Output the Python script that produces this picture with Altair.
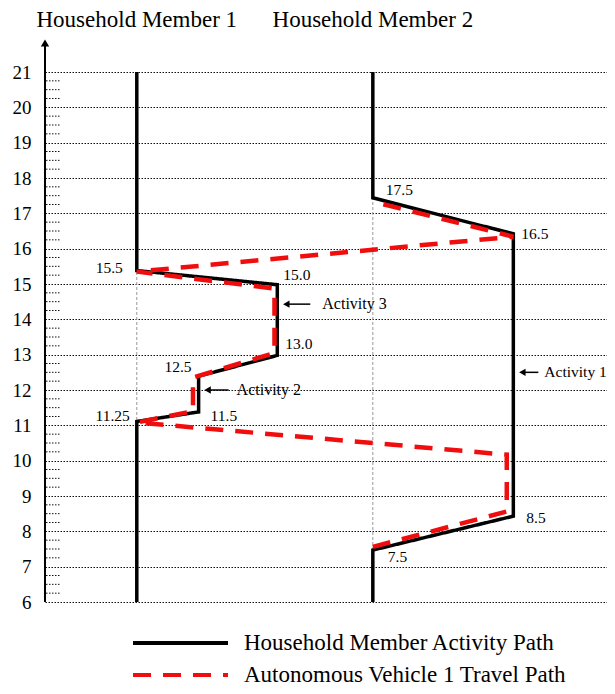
import altair as alt
import pandas as pd

SERIF = "Liberation Serif"
PLOT_W, PLOT_H = 562, 530
XMAX = 6.0

# ---- data ----
hours = list(range(6, 22))
quarter_marks = [h + q for h in range(6, 21) for q in (0.25, 0.5, 0.75)]

# abstract horizontal locations
LOC_M1, LOC_A2, LOC_A3, LOC_M2, LOC_A1 = 0.98, 1.64, 2.48, 3.5, 5.0

member_names = ["Household Member 1", "Household Member 2"]
member_locs = [LOC_M1, LOC_M2]

HM = "Household Member Activity Path"
AV = "Autonomous Vehicle 1 Travel Path"

m1_loc = [LOC_M1, LOC_M1, LOC_A2, LOC_A2, LOC_A3, LOC_A3, LOC_M1, LOC_M1]
m1_time = [6, 11.11, 11.38, 12.39, 12.98, 14.98, 15.38, 21]

m2_loc = [LOC_M2, LOC_M2, LOC_A1, LOC_A1, LOC_M2, LOC_M2]
m2_time = [6, 7.47, 8.43, 16.42, 17.44, 21]

av_loc = [3.5, 4.93, 4.93, 0.98, 1.58, 1.58, 2.45, 2.45, 0.98, 5.0, 3.5]
av_time = [7.56, 8.56, 10.17, 11.08, 11.4, 12.35, 13.05, 14.87, 15.35, 16.34, 17.33]

label_text = ["15.5", "15.0", "13.0", "12.5", "11.5", "11.25", "17.5", "16.5", "8.5", "7.5"]
label_loc = [LOC_M1, LOC_A3, LOC_A3, LOC_A2, LOC_A2, LOC_M1, LOC_M2, LOC_A1, LOC_A1, LOC_M2]
label_time = [15.38, 14.98, 12.98, 12.39, 11.38, 11.11, 17.44, 16.42, 8.43, 7.47]
# (align, dx, dy) styling per label
label_style = [("right", -14, -3), ("left", 6, -10), ("left", 8, -11), ("right", -7, -9),
               ("left", 12, 4), ("right", -7, -5), ("left", 13, -8), ("left", 8, 0),
               ("left", 13, 2), ("left", 15, 7)]

activity_names = ["Activity 1", "Activity 2", "Activity 3"]
activity_locs = [LOC_A1, LOC_A2, LOC_A3]
activity_time = [12.5, 12.0, 14.43]
# (arrow length, text dx, font size) styling per annotation
activity_style = [(20, 31, 15.5), (25, 38, 16), (28, 45, 16)]

# ---- tables ----
def path_df(locs, times, pid, kind):
    return pd.DataFrame({"loc": locs, "t": times, "path": pid, "kind": kind,
                         "order": list(range(len(locs)))})

black_df = pd.concat([path_df(m1_loc, m1_time, "m1", HM), path_df(m2_loc, m2_time, "m2", HM)])
red_df = path_df(av_loc, av_time, "av", AV)
hours_df = pd.DataFrame({"t": hours})
quarter_df = pd.DataFrame({"t": quarter_marks})
member_df = pd.DataFrame({"name": member_names, "loc": member_locs})

x_scale = alt.Scale(domain=[0, XMAX], nice=False, zero=False)
y_scale = alt.Scale(domain=[6, 21], nice=False, zero=False)
y_axis = alt.Axis(values=hours, format="d", grid=True, gridDash=[1.5, 1.5], gridColor="#111",
                  gridWidth=1, domain=False, ticks=False, labelFont=SERIF, labelFontSize=19,
                  labelColor="black", labelPadding=14, title=None)

X = lambda f="loc": alt.X(f"{f}:Q", scale=x_scale, axis=None)
Y = lambda f="t": alt.Y(f"{f}:Q", scale=y_scale, axis=y_axis)

legend = alt.Legend(title=None, orient="none", legendX=86, legendY=555, symbolType="stroke",
                    symbolSize=9025, symbolStrokeWidth=4, clipHeight=32, rowPadding=0,
                    labelFont=SERIF, labelFontSize=23, labelColor="black", labelOffset=14,
                    padding=0, labelLimit=500)
color = alt.Color("kind:N", scale=alt.Scale(domain=[HM, AV], range=["black", "#f00d0d"]),
                  legend=legend)
dash = alt.StrokeDash("kind:N", scale=alt.Scale(domain=[HM, AV], range=[[1, 0], [18, 12]]),
                      legend=legend)

grid = alt.Chart(hours_df).mark_rule(opacity=0).encode(y=Y())

minor = alt.Chart(quarter_df).mark_rule(color="#111", strokeDash=[1.5, 1.5], strokeWidth=1).encode(
    y=Y(), x=alt.value(1), x2=alt.value(15))

guides = alt.Chart(member_df).mark_rule(color="#999", strokeDash=[3, 2], strokeWidth=1).encode(
    x=X(), y=alt.value(0), y2=alt.value(PLOT_H))

axis_line = alt.Chart(hours_df.head(1)).mark_rule(color="black", strokeWidth=2).encode(
    x=alt.value(0), y=alt.value(PLOT_H), y2=alt.value(-26))
axis_arrow = alt.Chart(hours_df.head(1)).mark_point(shape="triangle-up", filled=True, color="black",
                                                   size=70, opacity=1).encode(
    x=alt.value(0), y=alt.value(-29))

black_lines = alt.Chart(black_df).mark_line(strokeWidth=3.5, strokeJoin="miter", strokeCap="butt").encode(
    x=X(), y=Y(), detail="path:N", order="order:Q", color=color, strokeDash=dash)
red_line = alt.Chart(red_df).mark_line(strokeWidth=4.5, strokeJoin="miter", strokeCap="butt").encode(
    x=X(), y=Y(), detail="path:N", order="order:Q", color=color, strokeDash=dash)

label_layers = []
for txt, loc, t, (al, dx, dy) in zip(label_text, label_loc, label_time, label_style):
    d = pd.DataFrame({"loc": [loc], "t": [t], "label": [txt]})
    label_layers.append(alt.Chart(d).mark_text(font=SERIF, fontSize=15.5, color="black", align=al,
                                               baseline="middle", dx=dx, dy=dy).encode(
        x=X(), y=Y(), text="label:N"))

act_layers = []
for name, loc, t, (alen, tdx, fs) in zip(activity_names, activity_locs, activity_time, activity_style):
    d = pd.DataFrame({"name": [name], "loc": [loc], "t": [t]})
    act_layers.append(alt.Chart(d).mark_rule(color="black", strokeWidth=1.5, xOffset=9,
                                             x2Offset=5 + alen).encode(x=X(), x2="loc:Q", y=Y()))
    act_layers.append(alt.Chart(d).mark_point(shape="triangle-left", filled=True, color="black",
                                              size=55, opacity=1, xOffset=9).encode(x=X(), y=Y()))
    act_layers.append(alt.Chart(d).mark_text(font=SERIF, fontSize=fs, color="black", align="left",
                                             baseline="middle", dx=tdx).encode(
        x=X(), y=Y(), text="name:N"))

titles = alt.Chart(member_df).mark_text(font=SERIF, fontSize=23, color="black", align="center",
                                        baseline="alphabetic").encode(
    x=X(), y=alt.value(-45), text="name:N")

chart = alt.layer(grid, minor, guides, axis_line, axis_arrow, black_lines, red_line, *label_layers,
                  *act_layers, titles).properties(
    width=PLOT_W, height=PLOT_H,
    autosize=alt.AutoSizeParams(type="none"),
    padding={"left": 37, "top": 64, "right": 0, "bottom": 84},
).configure_view(stroke=None)

chart.save("out.html", embed_options={"renderer": "svg", "actions": False})
